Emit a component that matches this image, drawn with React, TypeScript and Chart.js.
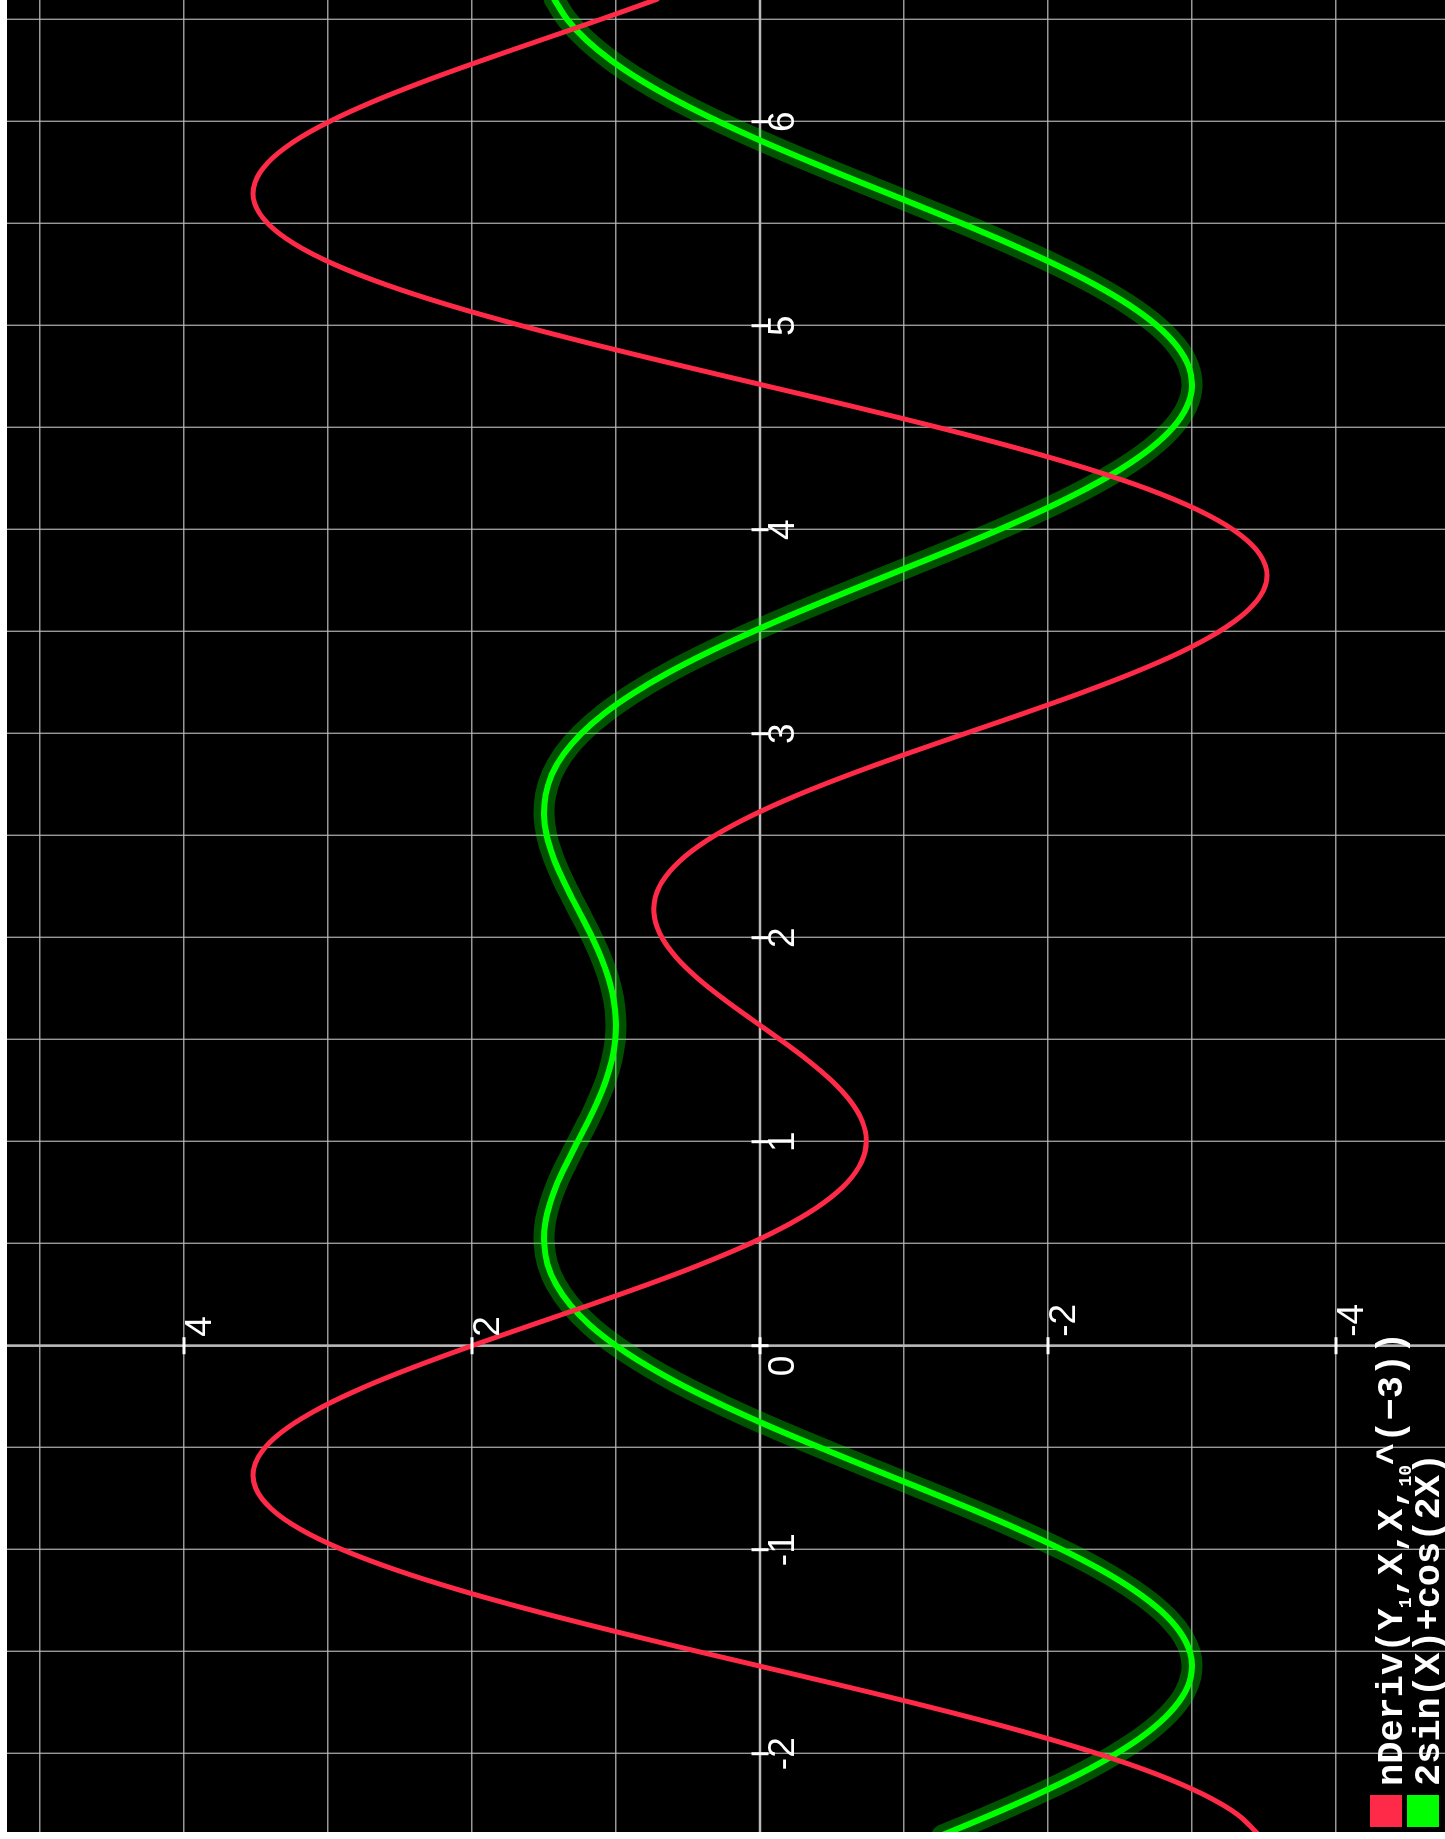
import { useEffect, useRef } from "react";
import { Chart, registerables } from "chart.js";

Chart.register(...registerables);

// ---- data (function samples) ----
const X_VALUES = [
  -2.4, -2.3, -2.2, -2.1, -2.0, -1.9, -1.8, -1.7, -1.6, -1.5, -1.4, -1.3, -1.2, -1.1, -1.0,
  -0.9, -0.8, -0.7, -0.6, -0.5, -0.4, -0.3, -0.2, -0.1, 0.0, 0.1, 0.2, 0.3, 0.4, 0.5, 0.6,
  0.7, 0.8, 0.9, 1.0, 1.1, 1.2, 1.3, 1.4, 1.5, 1.6, 1.7, 1.8, 1.9, 2.0, 2.1, 2.2, 2.3, 2.4,
  2.5, 2.6, 2.7, 2.8, 2.9, 3.0, 3.1, 3.2, 3.3, 3.4, 3.5, 3.6, 3.7, 3.8, 3.9, 4.0, 4.1, 4.2,
  4.3, 4.4, 4.5, 4.6, 4.7, 4.8, 4.9, 5.0, 5.1, 5.2, 5.3, 5.4, 5.5, 5.6, 5.7, 5.8, 5.9, 6.0,
  6.1, 6.2, 6.3, 6.4, 6.5, 6.6,
];

// Y1 = 2sin(X)+cos(2X)
const Y1_VALUES = [
  -1.263, -1.604, -1.924, -2.217, -2.472, -2.684, -2.844, -2.95, -2.997, -2.985, -2.913,
  -2.784, -2.601, -2.371, -2.099, -1.794, -1.464, -1.118, -0.767, -0.419, -0.082, 0.234,
  0.524, 0.78, 1.0, 1.18, 1.318, 1.416, 1.476, 1.499, 1.492, 1.458, 1.406, 1.339, 1.267,
  1.194, 1.127, 1.07, 1.029, 1.005, 1.001, 1.017, 1.051, 1.102, 1.165, 1.236, 1.31, 1.379,
  1.438, 1.481, 1.5, 1.489, 1.446, 1.364, 1.242, 1.08, 0.876, 0.635, 0.358, 0.052, -0.277,
  -0.621, -0.972, -1.322, -1.659, -1.976, -2.262, -2.511, -2.714, -2.866, -2.962, -3.0,
  -2.977, -2.895, -2.757, -2.566, -2.328, -2.05, -1.74, -1.407, -1.06, -0.708, -0.361,
  -0.027, 0.285, 0.569, 0.82, 1.033, 1.206, 1.338, 1.429,
];

// Y2 = nDeriv(Y1, X, X, 10^(-3))
const Y2_VALUES = [
  -3.467, -3.32, -3.08, -2.753, -2.346, -1.87, -1.339, -0.769, -0.175, 0.424, 1.01, 1.566,
  2.076, 2.524, 2.899, 3.191, 3.393, 3.501, 3.515, 3.438, 3.277, 3.04, 2.739, 2.387, 2.0,
  1.593, 1.181, 0.781, 0.407, 0.072, -0.213, -0.441, -0.606, -0.704, -0.738, -0.71, -0.626,
  -0.496, -0.33, -0.141, 0.058, 0.253, 0.431, 0.577, 0.681, 0.733, 0.726, 0.655, 0.518,
  0.316, 0.053, -0.263, -0.622, -1.013, -1.421, -1.832, -2.23, -2.598, -2.922, -3.187,
  -3.381, -3.494, -3.518, -3.449, -3.286, -3.031, -2.69, -2.27, -1.784, -1.246, -0.67,
  -0.074, 0.524, 1.106, 1.655, 2.156, 2.593, 2.954, 3.231, 3.417, 3.51, 3.508, 3.417, 3.242,
  2.993, 2.683, 2.324, 1.932, 1.523, 1.113, 0.716,
];

// window
const X_MIN = -2.3838;
const X_MAX = 6.5966;
const Y_MIN = -4.7569;
const Y_MAX = 5.2292;

const X_GRID = [-2, -1.5, -1, -0.5, 0, 0.5, 1, 1.5, 2, 2.5, 3, 3.5, 4, 4.5, 5, 5.5, 6, 6.5];
const Y_GRID = [-4, -3, -2, -1, 0, 1, 2, 3, 4, 5];

const X_TICKS = [-2, -1, 0, 1, 2, 3, 4, 5, 6];
const X_TICK_LABELS = ["-2", "-1", "0", "1", "2", "3", "4", "5", "6"];
const Y_TICKS = [-4, -2, 0, 2, 4];
const Y_TICK_LABELS = ["-4", "-2", "", "2", "4"];

const LEGEND_COLORS = ["#ff2a48", "#00ff00"];
const LEGEND_LINE1 = [
  { text: "nDeriv(Y", sub: false },
  { text: "1", sub: true },
  { text: ",X,X,", sub: false },
  { text: "10", sub: true },
  { text: "^(\u22123))", sub: false },
];
const LEGEND_LINE2 = [{ text: "2sin(X)+cos(2X)", sub: false }];

const RED = "#ff2a48";
const GREEN = "#00ff00";
const GLOW = "rgba(0,255,0,0.32)";
const GRID_COLOR = "rgba(190,190,190,0.8)";
const AXIS_COLOR = "#b8b8b8";

const W = 1832;
const H = 1438;

const calcPlugin = {
  id: "calcAxes",
  beforeDatasetsDraw(chart: any) {
    const { ctx, chartArea, scales } = chart;
    const x0 = scales.x.getPixelForValue(0);
    const y0 = scales.y.getPixelForValue(0);
    ctx.save();
    ctx.strokeStyle = AXIS_COLOR;
    ctx.lineWidth = 2.5;
    ctx.beginPath();
    ctx.moveTo(chartArea.left, y0);
    ctx.lineTo(chartArea.right, y0);
    ctx.moveTo(x0, chartArea.top);
    ctx.lineTo(x0, chartArea.bottom);
    ctx.stroke();
    ctx.restore();
  },
  afterDatasetsDraw(chart: any) {
    const { ctx, chartArea, scales } = chart;
    const xs = scales.x;
    const ys = scales.y;
    const x0 = xs.getPixelForValue(0);
    const y0 = ys.getPixelForValue(0);
    ctx.save();
    // tick marks
    ctx.strokeStyle = "#ffffff";
    ctx.lineWidth = 3;
    ctx.beginPath();
    X_TICKS.forEach((t) => {
      const p = xs.getPixelForValue(t);
      ctx.moveTo(p, y0 - 8.5);
      ctx.lineTo(p, y0 + 8.5);
    });
    Y_TICKS.forEach((t) => {
      const p = ys.getPixelForValue(t);
      ctx.moveTo(x0 - 8.5, p);
      ctx.lineTo(x0 + 8.5, p);
    });
    ctx.stroke();
    // tick labels
    ctx.fillStyle = "#ffffff";
    ctx.font = '37px "Liberation Sans", Arial, sans-serif';
    ctx.textBaseline = "alphabetic";
    X_TICKS.forEach((t, i) => {
      const p = xs.getPixelForValue(t);
      if (t === 0) {
        ctx.textAlign = "right";
        ctx.fillText(X_TICK_LABELS[i], x0 - 10, y0 + 34);
      } else {
        ctx.textAlign = "center";
        ctx.fillText(X_TICK_LABELS[i], p, y0 + 34);
      }
    });
    ctx.textAlign = "left";
    Y_TICKS.forEach((t, i) => {
      if (!Y_TICK_LABELS[i]) return;
      const p = ys.getPixelForValue(t);
      ctx.fillText(Y_TICK_LABELS[i], x0 + 9, p + 27);
    });
    // legend
    const lines = [LEGEND_LINE1, LEGEND_LINE2];
    const left = chartArea.left + 5;
    const baseBottom = chartArea.bottom - 6;
    lines.forEach((parts, li) => {
      const baseline = baseBottom - (lines.length - 1 - li) * 37;
      ctx.fillStyle = LEGEND_COLORS[li];
      ctx.fillRect(left, baseline - 32, 32, 32);
      ctx.fillStyle = "#ffffff";
      ctx.textAlign = "left";
      let cx = left + 41;
      parts.forEach((p) => {
        ctx.font = p.sub
          ? 'bold 18px "Liberation Mono", monospace'
          : 'bold 37px "Liberation Mono", monospace';
        ctx.fillText(p.text, cx, p.sub ? baseline + 9 : baseline);
        cx += ctx.measureText(p.text).width;
      });
    });
    ctx.restore();
  },
};

export default function App() {
  const ref = useRef<HTMLCanvasElement>(null);

  useEffect(() => {
    const canvas = ref.current;
    if (!canvas) return;
    const toPts = (ys: number[]) => X_VALUES.map((x, i) => ({ x, y: ys[i] }));
    const chart = new Chart(canvas, {
      type: "line",
      data: {
        datasets: [
          {
            label: "nDeriv(Y1,X,X,10^(-3))",
            data: toPts(Y2_VALUES),
            borderColor: RED,
            borderWidth: 5,
            pointRadius: 0,
            tension: 0.35,
            borderCapStyle: "round",
            borderJoinStyle: "round",
            order: 1,
          },
          {
            label: "2sin(X)+cos(2X)",
            data: toPts(Y1_VALUES),
            borderColor: GREEN,
            borderWidth: 6,
            pointRadius: 0,
            tension: 0.35,
            borderCapStyle: "round",
            borderJoinStyle: "round",
            order: 2,
          },
          {
            label: "glow",
            data: toPts(Y1_VALUES),
            borderColor: GLOW,
            borderWidth: 21,
            pointRadius: 0,
            tension: 0.35,
            borderCapStyle: "round",
            borderJoinStyle: "round",
            order: 3,
          },
        ],
      } as any,
      options: {
        animation: false,
        responsive: false,
        devicePixelRatio: 1,
        events: [],
        layout: { padding: 0, autoPadding: false },
        plugins: { legend: { display: false }, tooltip: { enabled: false } },
        scales: {
          x: {
            type: "linear",
            min: X_MIN,
            max: X_MAX,
            grid: { color: GRID_COLOR, lineWidth: 1.4, drawTicks: false },
            border: { display: false },
            ticks: { display: false },
            afterBuildTicks: (scale: any) => {
              scale.ticks = X_GRID.map((v) => ({ value: v }));
            },
          },
          y: {
            type: "linear",
            min: Y_MIN,
            max: Y_MAX,
            grid: { color: GRID_COLOR, lineWidth: 1.4, drawTicks: false },
            border: { display: false },
            ticks: { display: false },
            afterBuildTicks: (scale: any) => {
              scale.ticks = Y_GRID.map((v) => ({ value: v }));
            },
          },
        },
      } as any,
      plugins: [calcPlugin],
    });
    return () => chart.destroy();
  }, []);

  return (
    <div
      style={{
        position: "fixed",
        left: 7,
        top: 0,
        width: H,
        height: W,
        background: "#000",
        overflow: "hidden",
      }}
    >
      <div
        style={{
          position: "absolute",
          left: 0,
          top: 0,
          width: W,
          height: H,
          transformOrigin: "0 0",
          transform: `translateY(${W}px) rotate(-90deg)`,
        }}
      >
        <canvas ref={ref} width={W} height={H} style={{ display: "block", width: W, height: H }} />
      </div>
    </div>
  );
}
